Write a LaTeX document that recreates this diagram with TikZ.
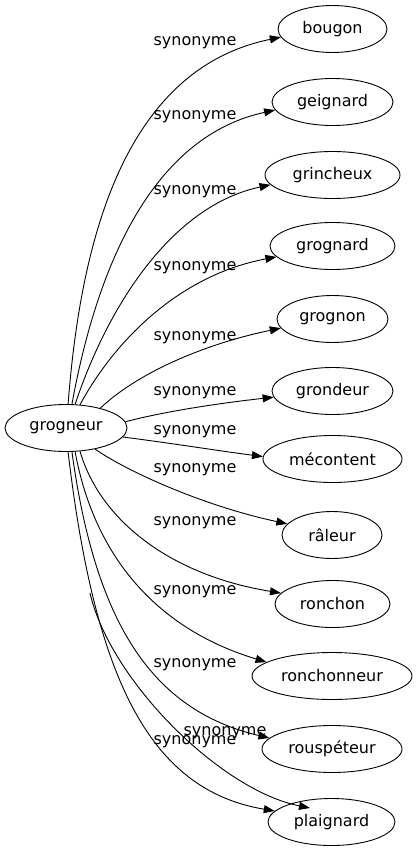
\documentclass[tikz,border=0pt]{standalone}
\usepackage{fontspec}
\setmainfont{DejaVu Sans}
\usetikzlibrary{shapes.geometric,arrows.meta}
\begin{document}
\begin{tikzpicture}[x=1pt,y=-1pt,
  word/.style={draw, ellipse, inner sep=0pt, minimum height=47pt, line width=0.9pt, font=\fontsize{16}{19}\selectfont},
  rel/.style={inner sep=0pt, font=\fontsize{16}{19}\selectfont},
  syn/.style={draw, line width=0.9pt, -{Triangle[length=11pt,width=8pt]}}]
\useasboundingbox (0,0) rectangle (417,851);
% nodes
\node[word, minimum width=122pt] (g) at (66,428) {grogneur};
\node[word, minimum width=109pt] (bougon) at (332.5,29) {bougon};
\node[word, minimum width=121pt] (geignard) at (332.5,102) {geignard};
\node[word, minimum width=135pt] (grincheux) at (332.5,175) {grincheux};
\node[word, minimum width=125pt] (grognard) at (332.5,246) {grognard};
\node[word, minimum width=111pt] (grognon) at (332.5,319) {grognon};
\node[word, minimum width=121pt] (grondeur) at (332.5,391) {grondeur};
\node[word, minimum width=139pt] (mecontent) at (332.5,459) {mécontent};
\node[word, minimum width=100pt] (raleur) at (332,535) {râleur};
\node[word, minimum width=115pt] (ronchon) at (332.5,604) {ronchon};
\node[word, minimum width=160pt] (ronchonneur) at (332,676) {ronchonneur};
\node[word, minimum width=140pt] (rouspeteur) at (332,749) {rouspéteur};
\node[word, minimum width=127pt] (plaignard) at (331.5,822) {plaignard};
% labels
\node[rel] (l1) at (195,43) {synonyme};
\node[rel] (l2) at (195,117) {synonyme};
\node[rel] (l3) at (195,192) {synonyme};
\node[rel] (l4) at (195,268) {synonyme};
\node[rel] (l5) at (195,338) {synonyme};
\node[rel] (l6) at (195,393) {synonyme};
\node[rel] (l7) at (195,432) {synonyme};
\node[rel] (l8) at (195,470) {synonyme};
\node[rel] (l9) at (195,523) {synonyme};
\node[rel] (l10) at (195,592) {synonyme};
\node[rel] (l11) at (195,665) {synonyme};
\node[rel] (l12) at (225,733) {synonyme};
\node[rel] (l13) at (195,742) {synonyme};
% edges
\draw[syn] (g.85) .. controls (80,250) and (120,70) .. (bougon.189);
\draw[syn] (g.76) .. controls (100,250) and (160,135) .. (geignard.188);
\draw[syn] (g.69) .. controls (110,300) and (175,205) .. (grincheux.189);
\draw[syn] (g.59) .. controls (115,340) and (180,275) .. (grognard.191);
\draw[syn] (g.30) .. controls (135,375) and (200,345) .. (grognon.190);
\draw[syn] (g.6) .. controls (170,410) and (230,402) .. (grondeur.186);
\draw[syn] (g.351) .. controls (170,443) and (220,451) .. (mecontent.178);
\draw[syn] (g.324) .. controls (125,470) and (200,505) .. (raleur.166);
\draw[syn] (g.301) .. controls (100,520) and (170,575) .. (ronchon.168);
\draw[syn] (g.291) .. controls (95,560) and (160,630) .. (ronchonneur.168);
\draw[syn] (g.284) .. controls (95,620) and (150,710) .. (rouspeteur.170);
\draw[syn] (g.275) .. controls (95,680) and (150,790) .. (plaignard.169);
\coordinate (p2start) at (90,593);
\coordinate (p2end) at (310,808);
\draw[syn] (p2start) .. controls (110,680) and (220,790) .. (p2end);
\end{tikzpicture}
\end{document}
